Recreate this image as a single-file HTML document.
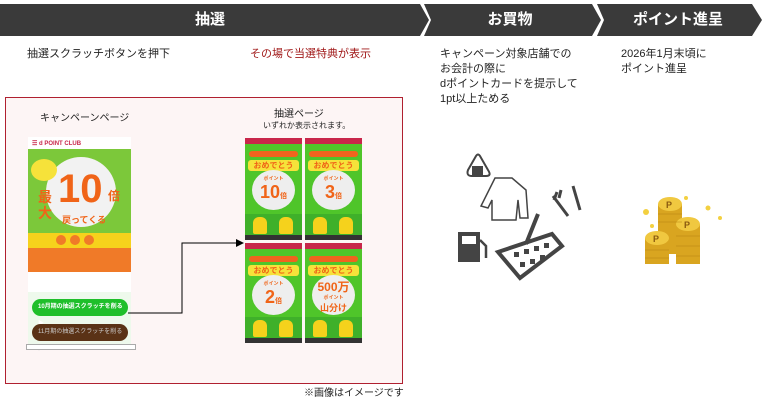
<!DOCTYPE html>
<html><head><meta charset="utf-8"><style>
*{margin:0;padding:0;box-sizing:border-box}
body{width:766px;height:402px;background:#fff;position:relative;overflow:hidden;font-family:"Liberation Sans","Noto Sans CJK JP",sans-serif;color:#222}
.a{position:absolute}
.t{font-size:11px;line-height:14px;white-space:nowrap}
.hd{color:#fff;font-weight:bold;font-size:15px;text-align:center;line-height:32px}
.pn{position:absolute;width:57px;height:102px;background:#4fc52a;overflow:hidden}
.pn .top{position:absolute;left:0;top:0;width:100%;height:6px;background:#c8264a}
.pn .bar{position:absolute;left:4px;top:13px;width:49px;height:6px;background:#f0641e;border-radius:3px}
.pn .rib{position:absolute;left:3px;top:22px;width:51px;height:11px;background:#f6e23a;border-radius:3px;color:#f06418;font-size:8px;font-weight:bold;text-align:center;line-height:11px}
.pn .burst{position:absolute;left:7px;top:32px;width:43px;height:40px;background:#eee;border-radius:50%;text-align:center;color:#f06418;font-weight:bold}
.pn .bt{position:absolute;left:0;bottom:0;width:100%;height:26px;background:#3fb02a}
.pn .ch{position:absolute;bottom:6px;width:14px;height:17px;background:#f5d21c;border-radius:6px 6px 2px 2px}
.pn .ft{position:absolute;left:0;bottom:0;width:100%;height:5px;background:#333}
</style></head><body>
<svg class="a" style="left:0;top:0" width="766" height="40">
<polygon points="0,4 420,4 429,20 420,36 0,36" fill="#3a3a3a"/>
<polygon points="424,4 592,4 601,20 592,36 424,36 431,20" fill="#3a3a3a"/>
<polygon points="597,4 752,4 762,20 752,36 597,36 604,20" fill="#3a3a3a"/>
</svg>
<div class="a hd" style="left:0;top:4px;width:420px">抽選</div>
<div class="a hd" style="left:428px;top:4px;width:164px">お買物</div>
<div class="a hd" style="left:602px;top:4px;width:152px">ポイント進呈</div>

<div class="a t" style="left:27px;top:47px">抽選スクラッチボタンを押下</div>
<div class="a t" style="left:250px;top:47px;color:#a01818">その場で当選特典が表示</div>
<div class="a t" style="left:440px;top:47px;line-height:15px">キャンペーン対象店舗での<br>お会計の際に<br>dポイントカードを提示して<br>1pt以上ためる</div>
<div class="a t" style="left:621px;top:47px;line-height:15px">2026年1月末頃に<br>ポイント進呈</div>

<div class="a" style="left:5px;top:97px;width:398px;height:287px;border:1px solid #b02030;background:#fdf5f5"></div>
<div class="a t" style="left:40px;top:112px;font-size:10px">キャンペーンページ</div>
<div class="a t" style="left:274px;top:108px;font-size:10px">抽選ページ</div>
<div class="a t" style="left:263px;top:121px;font-size:8px;line-height:10px">いずれか表示されます。</div>

<!-- campaign page -->
<div class="a" style="left:28px;top:137px;width:103px;height:208px;background:#fff;overflow:hidden">
 <div class="a" style="left:0;top:0;width:103px;height:12px;background:#fff;font-size:6px;color:#c8264a;font-weight:bold;padding:3px 0 0 4px">☰ d POINT CLUB</div>
 <div class="a" style="left:0;top:12px;width:103px;height:84px;background:#7cc83a"></div>
 <div class="a" style="left:18px;top:20px;width:70px;height:70px;background:#f2f2f2;border-radius:50%"></div>
 <div class="a" style="left:30px;top:30px;font-size:40px;font-weight:bold;color:#f06418;line-height:44px">10</div>
 <div class="a" style="left:10px;top:52px;font-size:14px;font-weight:bold;color:#f06418;line-height:16px">最<br>大</div>
 <div class="a" style="left:80px;top:50px;font-size:12px;font-weight:bold;color:#f06418">倍</div>
 <div class="a" style="left:34px;top:76px;font-size:9px;font-weight:bold;color:#f06418">戻ってくる</div>
 <div class="a" style="left:3px;top:22px;width:26px;height:22px;background:#f6e23a;border-radius:50%"></div>
 <div class="a" style="left:0;top:96px;width:103px;height:15px;background:#f6d21c"></div>
 <div class="a" style="left:28px;top:98px;width:10px;height:10px;background:#f07a28;border-radius:50%"></div>
 <div class="a" style="left:42px;top:98px;width:10px;height:10px;background:#f07a28;border-radius:50%"></div>
 <div class="a" style="left:56px;top:98px;width:10px;height:10px;background:#f07a28;border-radius:50%"></div>
 <div class="a" style="left:0;top:111px;width:103px;height:24px;background:#f07a28"></div>
 <div class="a" style="left:0;top:155px;width:103px;height:53px;background:#eef9ec"></div>
</div>
<div class="a" style="left:32px;top:299px;width:96px;height:17px;background:#1fbf2a;border-radius:9px;font-size:6px;color:#fff;line-height:17px;padding-left:6px;font-weight:bold">10月期の抽選スクラッチを削る ▶</div>
<div class="a" style="left:32px;top:324px;width:96px;height:17px;background:#5a3216;border-radius:9px;font-size:6px;color:#ccc;line-height:17px;padding-left:6px">11月期の抽選スクラッチを削る ▶</div>
<div class="a" style="left:26px;top:344px;width:110px;height:6px;border:1px solid #aaa;background:#fff"></div>

<svg class="a" style="left:0;top:0" width="766" height="402">
<polyline points="128,313 182,313 182,243 238,243" fill="none" stroke="#000" stroke-width="1"/>
<polygon points="244,243 236,239 236,247" fill="#000"/>
</svg>

<div class="pn" style="left:245px;top:138px"><div class="top"></div><div class="bar"></div><div class="rib">おめでとう</div><div class="burst"><div style="font-size:5px;margin-top:5px">ポイント</div><div style="font-size:18px;line-height:20px">10<span style="font-size:7px">倍</span></div></div><div class="bt"></div><div class="ch" style="left:8px"></div><div class="ch" style="left:34px"></div><div class="ft"></div></div>
<div class="pn" style="left:305px;top:138px"><div class="top"></div><div class="bar"></div><div class="rib">おめでとう</div><div class="burst"><div style="font-size:5px;margin-top:5px">ポイント</div><div style="font-size:18px;line-height:20px">3<span style="font-size:7px">倍</span></div></div><div class="bt"></div><div class="ch" style="left:8px"></div><div class="ch" style="left:34px"></div><div class="ft"></div></div>
<div class="pn" style="left:245px;top:243px;height:100px"><div class="top"></div><div class="bar"></div><div class="rib">おめでとう</div><div class="burst"><div style="font-size:5px;margin-top:5px">ポイント</div><div style="font-size:18px;line-height:20px">2<span style="font-size:7px">倍</span></div></div><div class="bt"></div><div class="ch" style="left:8px"></div><div class="ch" style="left:34px"></div><div class="ft"></div></div>
<div class="pn" style="left:305px;top:243px;height:100px"><div class="top"></div><div class="bar"></div><div class="rib">おめでとう</div><div class="burst"><div style="font-size:12px;line-height:14px;margin-top:5px">500万</div><div style="font-size:5px">ポイント</div><div style="font-size:9px">山分け</div></div><div class="bt"></div><div class="ch" style="left:8px"></div><div class="ch" style="left:34px"></div><div class="ft"></div></div>

<div class="a t" style="left:304px;top:387px;font-size:10px">※画像はイメージです</div>

<!-- shopping icons -->
<svg class="a" style="left:440px;top:140px" width="160" height="150" stroke="#444" fill="none" stroke-width="2">
<path d="M36,16 L28,30 Q26,36 32,36 L46,36 Q52,36 48,30 L40,16 Q38,13 36,16Z"/>
<rect x="33" y="27" width="9" height="8" fill="#444"/>
<path d="M55,38 L72,38 L86,50 L88,78 L80,78 L78,60 L76,80 L52,80 L52,60 L48,68 L41,66 Z" stroke-width="1.5"/>
<path d="M113,56 L128,76 M117,52 L114,60 M121,50 L119,58 M133,46 L140,70" stroke-width="3"/>
<rect x="18" y="92" width="22" height="30" fill="#444" stroke="none"/>
<rect x="22" y="96" width="14" height="8" fill="#fff" stroke="none"/>
<path d="M40,100 L46,106 L46,118" stroke-width="2.5"/>
<path d="M58,112 L112,94 L122,106 L80,138 Z" stroke-width="4"/>
<path d="M86,104 L98,74" stroke-width="4"/>
<g fill="#444" stroke="none"><rect x="74" y="112" width="5" height="5"/><rect x="84" y="109" width="5" height="5"/><rect x="94" y="106" width="5" height="5"/><rect x="104" y="103" width="5" height="5"/><rect x="80" y="122" width="5" height="5"/><rect x="90" y="119" width="5" height="5"/><rect x="100" y="115" width="5" height="5"/></g>
</svg>

<!-- coins -->
<svg class="a" style="left:640px;top:190px" width="90" height="85">
<rect x="18" y="14" width="24" height="50" fill="#d9a520"/>
<ellipse cx="30" cy="14" rx="12" ry="7" fill="#f0c840"/>
<rect x="36" y="34" width="24" height="40" fill="#d9a520"/>
<ellipse cx="48" cy="34" rx="12" ry="7" fill="#f0c840"/>
<rect x="5" y="48" width="24" height="26" fill="#d9a520"/>
<ellipse cx="17" cy="48" rx="12" ry="7" fill="#f0c840"/>
<g stroke="#b88410" stroke-width="0.6"><line x1="18" y1="24" x2="42" y2="24"/><line x1="18" y1="32" x2="42" y2="32"/><line x1="36" y1="46" x2="60" y2="46"/><line x1="36" y1="56" x2="60" y2="56"/><line x1="36" y1="66" x2="60" y2="66"/><line x1="5" y1="60" x2="29" y2="60"/><line x1="5" y1="68" x2="29" y2="68"/></g>
<text x="26" y="18" font-size="9" font-weight="bold" fill="#8a5a10" font-family="Liberation Sans">P</text>
<text x="44" y="38" font-size="9" font-weight="bold" fill="#8a5a10" font-family="Liberation Sans">P</text>
<text x="13" y="52" font-size="9" font-weight="bold" fill="#8a5a10" font-family="Liberation Sans">P</text>
<g fill="#f3d040"><circle cx="6" cy="22" r="3"/><circle cx="68" cy="18" r="2.5"/><circle cx="80" cy="28" r="2"/><circle cx="12" cy="36" r="2"/><circle cx="46" cy="8" r="2"/></g>
</svg>
</body></html>
